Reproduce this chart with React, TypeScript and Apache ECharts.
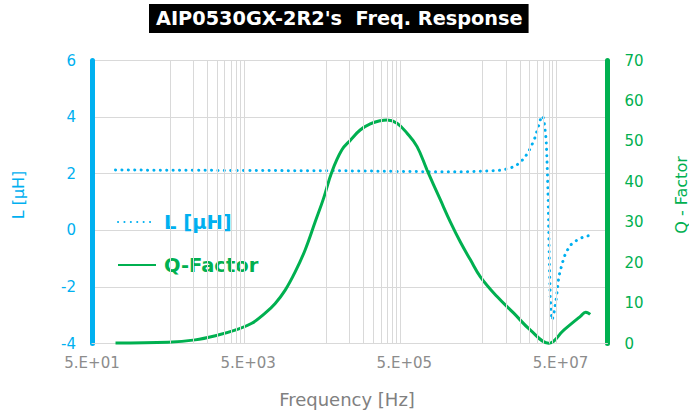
import React, { useEffect, useRef } from "react";
import * as echarts from "echarts";

const TITLE = "AIP0530GX-2R2's  Freq. Response";
const L_NAME = "L [μH]";
const Q_NAME = "Q-Factor";
const X_NAME = "Frequency [Hz]";
const L_AXIS_NAME = "L [μH]";
const Q_AXIS_NAME = "Q - Factor";

// x axis (frequency, Hz) on a log scale
const X_MIN_HZ = 50;
const X_MAX_HZ = 2e8;
const X_TICK_LABELS = ["5.E+01", "5.E+03", "5.E+05", "5.E+07"];
const MINOR_GRID_HZ = [
  500, 1000, 1500, 2000, 2500, 3000, 3500, 4000, 4500,
  5e4, 1e5, 1.5e5, 2e5, 2.5e5, 3e5, 3.5e5, 4e5, 4.5e5,
  5e6, 1e7, 1.5e7, 2e7, 2.5e7, 3e7, 3.5e7, 4e7, 4.5e7,
];

// Inductance series
const L_FREQ_HZ = [
  100, 1000, 1e4, 1e5, 1e6, 3e6, 5.15e6, 8.5e6, 1.08e7, 1.35e7, 1.73e7, 2.06e7,
  2.34e7, 2.64e7, 2.85e7, 3.05e7, 3.28e7, 3.38e7, 3.48e7, 3.54e7, 3.61e7, 3.69e7,
  3.8e7, 3.92e7, 4.19e7, 4.45e7, 4.76e7, 5.26e7, 5.8e7, 6.72e7, 8.19e7, 9.96e7, 1.15e8,
];
const L_UH = [
  2.13, 2.12, 2.11, 2.1, 2.07, 2.07, 2.09, 2.12, 2.18, 2.28, 2.55, 2.9,
  3.25, 3.72, 4.04, 3.96, 3.19, 2.25, 1.07, -0.1, -1.29, -2.35,
  -2.93, -3.17, -2.82, -2.35, -1.64, -1.17, -0.81, -0.52, -0.34, -0.23, -0.19,
];

// Q-factor series
const Q_FREQ_HZ = [
  100, 471, 1045, 2060, 3400, 5570, 8250, 1.11e4, 1.49e4, 2.0e4, 2.69e4, 3.61e4,
  4.62e4, 5.91e4, 7.94e4, 1.02e5, 1.36e5, 1.83e5, 2.46e5, 3.0e5, 4.03e5, 5.42e5,
  7.28e5, 9.78e5, 1.45e6, 1.94e6, 2.61e6, 3.51e6, 4.71e6, 7.7e6, 1.26e7, 2.06e7,
  3.54e7, 5.51e7, 9.0e7, 1.05e8, 1.12e8, 1.2e8,
];
const Q_VALUES = [
  0.1, 0.3, 0.9, 2.1, 3.3, 5.0, 7.5, 9.9, 13.2, 17.7, 23.2, 30.1,
  35.9, 42.5, 47.9, 50.3, 52.8, 54.3, 55.1, 55.3, 54.5, 52.0,
  48.7, 42.9, 35.5, 30.1, 25.1, 20.7, 16.5, 11.6, 7.5, 3.3,
  0.05, 3.3, 6.7, 7.7, 7.6, 7.2,
];

const BLUE = "#00B0F0";
const GREEN = "#00B050";
const GRID = "#D9D9D9";
const FONT = "DejaVu Sans";

const toX = (hz: number) => Math.log10(hz / X_MIN_HZ);

export default function App() {
  const ref = useRef<HTMLDivElement>(null);

  useEffect(() => {
    document.body.style.margin = "0";
    if (!ref.current) return;
    const chart = echarts.init(ref.current, null, { renderer: "svg" });

    const lData = L_FREQ_HZ.map((f, i) => [toX(f), L_UH[i]]);
    const qData = Q_FREQ_HZ.map((f, i) => [toX(f), Q_VALUES[i]]);

    const option: any = {
      animation: false,
      backgroundColor: "#ffffff",
      title: {
        text: TITLE,
        left: 149,
        top: 4,
        padding: [4, 6, 4, 7],
        backgroundColor: "#000000",
        textStyle: {
          color: "#ffffff",
          fontFamily: FONT,
          fontWeight: "bold",
          fontSize: 19.3,
          lineHeight: 21,
        },
      },
      legend: {
        orient: "vertical",
        left: 117,
        top: 212,
        padding: 0,
        itemWidth: 38,
        itemHeight: 14,
        itemGap: 23,
        selectedMode: false,
        itemStyle: { color: "rgba(0,0,0,0)", borderColor: "rgba(0,0,0,0)", borderWidth: 0, opacity: 0 },
        textStyle: {
          fontFamily: FONT,
          fontWeight: "bold",
          fontSize: 19.5,
          lineHeight: 20,
          padding: [0, 0, 0, 3],
        },
        data: [
          { name: L_NAME, textStyle: { color: BLUE } },
          { name: Q_NAME, textStyle: { color: GREEN } },
        ],
      },
      grid: { left: 92, right: 81.5, top: 60.5, bottom: 70.5, containLabel: false },
      xAxis: {
        type: "value",
        min: 0,
        max: toX(X_MAX_HZ),
        interval: 2,
        axisLine: { show: true, onZero: false, lineStyle: { color: GRID, width: 1 } },
        axisTick: { show: false },
        splitLine: { show: false },
        axisLabel: {
          color: "#8C8C8C",
          fontFamily: FONT,
          fontSize: 15,
          margin: 12,
          showMaxLabel: false,
          formatter: (v: number) => {
            const i = Math.round(v / 2);
            return Math.abs(v - i * 2) < 1e-6 ? X_TICK_LABELS[i] ?? "" : "";
          },
        },
      },
      yAxis: [
        {
          type: "value",
          min: -4,
          max: 6,
          interval: 2,
          position: "left",
          axisLine: { show: true, onZero: false, lineStyle: { color: BLUE, width: 5 } },
          axisTick: { show: false },
          splitLine: { show: true, lineStyle: { color: GRID, width: 1 } },
          axisLabel: { color: BLUE, fontFamily: FONT, fontSize: 15, margin: 16 },
        },
        {
          type: "value",
          min: 0,
          max: 70,
          interval: 10,
          position: "right",
          axisLine: { show: true, onZero: false, lineStyle: { color: GREEN, width: 5 } },
          axisTick: { show: false },
          splitLine: { show: false },
          axisLabel: { color: GREEN, fontFamily: FONT, fontSize: 15, margin: 17 },
        },
      ],
      graphic: [
        {
          type: "text",
          x: 18,
          y: 195,
          rotation: Math.PI / 2,
          style: {
            text: L_AXIS_NAME,
            fill: BLUE,
            font: `16px "${FONT}"`,
            align: "center",
            verticalAlign: "middle",
          },
        },
        {
          type: "text",
          x: 681,
          y: 195,
          rotation: Math.PI / 2,
          style: {
            text: Q_AXIS_NAME,
            fill: GREEN,
            font: `16px "${FONT}"`,
            align: "center",
            verticalAlign: "middle",
          },
        },
        {
          type: "text",
          x: 347,
          y: 399,
          style: {
            text: X_NAME,
            fill: "#808080",
            font: `18px "${FONT}"`,
            align: "center",
            verticalAlign: "middle",
          },
        },
      ],
      series: [
        {
          type: "line",
          name: "minor-grid",
          data: [],
          z: 1,
          silent: true,
          xAxisIndex: 0,
          yAxisIndex: 0,
          markLine: {
            silent: true,
            symbol: ["none", "none"],
            label: { show: false },
            emphasis: { disabled: true },
            lineStyle: { color: GRID, width: 1, type: "solid" },
            data: MINOR_GRID_HZ.map((f) => ({ xAxis: toX(f) })),
          },
        },
        {
          type: "line",
          name: L_NAME,
          yAxisIndex: 0,
          data: lData,
          symbol: "none",
          smooth: false,
          color: BLUE,
          lineStyle: { color: BLUE, width: 3, type: [0.1, 6.3], cap: "round" },
          z: 3,
        },
        {
          type: "line",
          name: Q_NAME,
          yAxisIndex: 1,
          data: qData,
          symbol: "none",
          smooth: 0.4,
          color: GREEN,
          lineStyle: { color: GREEN, width: 3 },
          z: 4,
        },
      ],
    };

    chart.setOption(option);
    return () => chart.dispose();
  }, []);

  return (
    <div
      ref={ref}
      style={{ position: "fixed", left: 0, top: 0, width: 689, height: 414 }}
    />
  );
}
